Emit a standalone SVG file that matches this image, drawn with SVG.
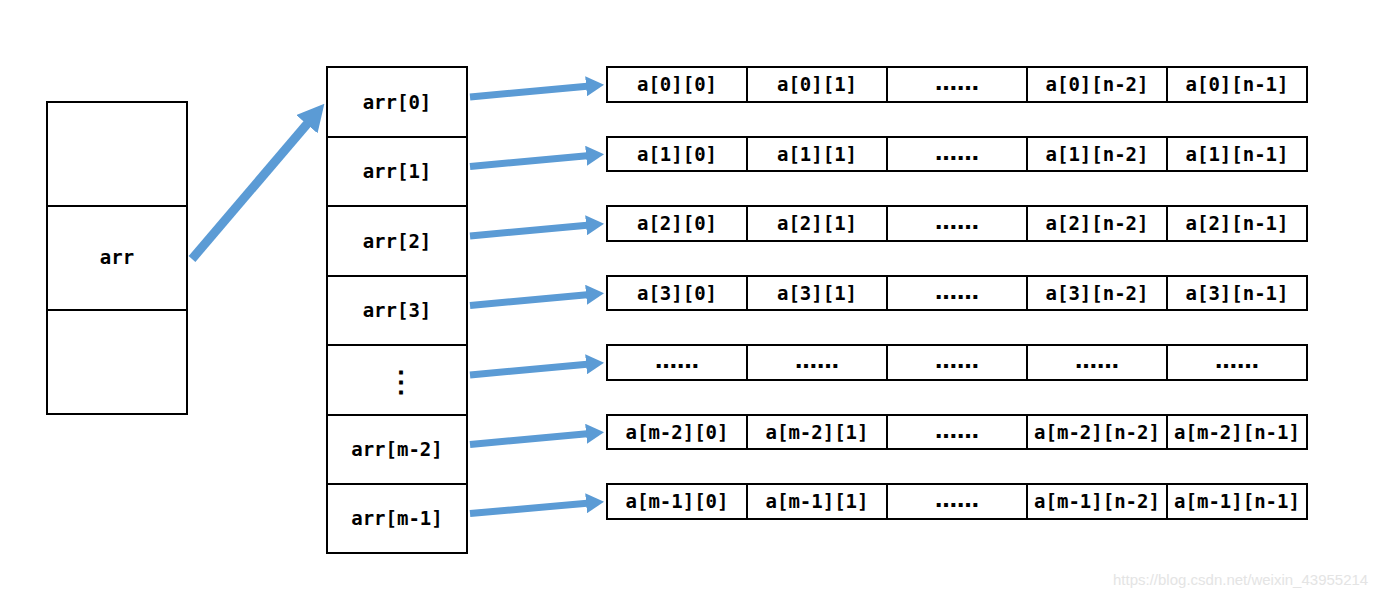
<svg xmlns="http://www.w3.org/2000/svg" width="1394" height="597" viewBox="0 0 1394 597">
<style>
.box{fill:#fff;stroke:#000;stroke-width:2}
.ln{stroke:#000;stroke-width:2}
.t{font-family:"DejaVu Sans Mono","Liberation Mono",monospace;font-weight:bold;font-size:19px;fill:#000;text-anchor:middle}
.el{font-family:"DejaVu Sans",sans-serif;font-weight:bold;font-size:22px;fill:#000;text-anchor:middle}
.vd{font-family:"Noto Sans CJK SC",sans-serif;font-weight:bold;font-size:28px;fill:#000;text-anchor:middle}
.ar{stroke:#5B9BD5;stroke-width:7;fill:none}
.big{stroke:#5B9BD5;stroke-width:9;fill:none}
.wm{font-family:"Liberation Sans",Arial,sans-serif;font-size:15px;fill:#e4e4e4}
</style>
<defs>
<marker id="ah" viewBox="0 0 18 20" refX="1" refY="10" markerWidth="18" markerHeight="20" markerUnits="userSpaceOnUse" orient="auto"><path d="M0,0 L18,10 L0,20 Z" fill="#5B9BD5"/></marker>
<marker id="ahb" viewBox="0 0 27 28" refX="1" refY="14" markerWidth="27" markerHeight="28" markerUnits="userSpaceOnUse" orient="auto"><path d="M0,0 L27,14 L0,28 Z" fill="#5B9BD5"/></marker>
</defs>

<g id="ptr">
<rect class="box" x="47" y="102" width="140" height="312"/>
<line class="ln" x1="47" y1="206" x2="187" y2="206"/>
<line class="ln" x1="47" y1="310" x2="187" y2="310"/>
<text class="t" x="117" y="264">arr</text>
</g>

<g id="rows">
<rect class="box" x="327" y="67" width="140" height="486"/>
<line class="ln" x1="327" y1="137" x2="467" y2="137"/>
<line class="ln" x1="327" y1="206" x2="467" y2="206"/>
<line class="ln" x1="327" y1="276" x2="467" y2="276"/>
<line class="ln" x1="327" y1="345" x2="467" y2="345"/>
<line class="ln" x1="327" y1="415" x2="467" y2="415"/>
<line class="ln" x1="327" y1="484" x2="467" y2="484"/>
<text class="t" x="397" y="109">arr[0]</text>
<text class="t" x="397" y="178">arr[1]</text>
<text class="t" x="397" y="248">arr[2]</text>
<text class="t" x="397" y="317">arr[3]</text>
<text class="vd" x="401" y="391">⋮</text>
<text class="t" x="397" y="456">arr[m-2]</text>
<text class="t" x="397" y="525">arr[m-1]</text>
</g>

<g id="row0">
<rect class="box" x="607" y="67" width="700" height="35"/>
<path class="ln" d="M747,67V102M887,67V102M1027,67V102M1167,67V102"/>
<text class="t" x="677" y="91">a[0][0]</text><text class="t" x="817" y="91">a[0][1]</text><text class="el" x="957" y="90">……</text><text class="t" x="1097" y="91">a[0][n-2]</text><text class="t" x="1237" y="91">a[0][n-1]</text>
</g>
<g id="row1">
<rect class="box" x="607" y="137" width="700" height="34"/>
<path class="ln" d="M747,137V171M887,137V171M1027,137V171M1167,137V171"/>
<text class="t" x="677" y="161">a[1][0]</text><text class="t" x="817" y="161">a[1][1]</text><text class="el" x="957" y="160">……</text><text class="t" x="1097" y="161">a[1][n-2]</text><text class="t" x="1237" y="161">a[1][n-1]</text>
</g>
<g id="row2">
<rect class="box" x="607" y="206" width="700" height="35"/>
<path class="ln" d="M747,206V241M887,206V241M1027,206V241M1167,206V241"/>
<text class="t" x="677" y="230">a[2][0]</text><text class="t" x="817" y="230">a[2][1]</text><text class="el" x="957" y="229">……</text><text class="t" x="1097" y="230">a[2][n-2]</text><text class="t" x="1237" y="230">a[2][n-1]</text>
</g>
<g id="row3">
<rect class="box" x="607" y="276" width="700" height="34"/>
<path class="ln" d="M747,276V310M887,276V310M1027,276V310M1167,276V310"/>
<text class="t" x="677" y="300">a[3][0]</text><text class="t" x="817" y="300">a[3][1]</text><text class="el" x="957" y="299">……</text><text class="t" x="1097" y="300">a[3][n-2]</text><text class="t" x="1237" y="300">a[3][n-1]</text>
</g>
<g id="rowdots">
<rect class="box" x="607" y="345" width="700" height="35"/>
<path class="ln" d="M747,345V380M887,345V380M1027,345V380M1167,345V380"/>
<text class="el" x="677" y="368">……</text><text class="el" x="817" y="368">……</text><text class="el" x="957" y="368">……</text><text class="el" x="1097" y="368">……</text><text class="el" x="1237" y="368">……</text>
</g>
<g id="rowm2">
<rect class="box" x="607" y="415" width="700" height="34"/>
<path class="ln" d="M747,415V449M887,415V449M1027,415V449M1167,415V449"/>
<text class="t" x="677" y="439">a[m-2][0]</text><text class="t" x="817" y="439">a[m-2][1]</text><text class="el" x="957" y="438">……</text><text class="t" x="1097" y="439">a[m-2][n-2]</text><text class="t" x="1237" y="439">a[m-2][n-1]</text>
</g>
<g id="rowm1">
<rect class="box" x="607" y="484" width="700" height="35"/>
<path class="ln" d="M747,484V519M887,484V519M1027,484V519M1167,484V519"/>
<text class="t" x="677" y="508">a[m-1][0]</text><text class="t" x="817" y="508">a[m-1][1]</text><text class="el" x="957" y="507">……</text><text class="t" x="1097" y="508">a[m-1][n-2]</text><text class="t" x="1237" y="508">a[m-1][n-1]</text>
</g>

<g id="connectors">
<line class="big" x1="192" y1="259" x2="307.5" y2="123.5" marker-end="url(#ahb)"/>
<line class="ar" x1="470" y1="97" x2="587.1" y2="86.2" marker-end="url(#ah)"/>
<line class="ar" x1="470" y1="166.5" x2="587.1" y2="155.7" marker-end="url(#ah)"/>
<line class="ar" x1="470" y1="236" x2="587.1" y2="225.2" marker-end="url(#ah)"/>
<line class="ar" x1="470" y1="305.5" x2="587.1" y2="294.7" marker-end="url(#ah)"/>
<line class="ar" x1="470" y1="375" x2="587.1" y2="364.2" marker-end="url(#ah)"/>
<line class="ar" x1="470" y1="444.5" x2="587.1" y2="433.7" marker-end="url(#ah)"/>
<line class="ar" x1="470" y1="513.5" x2="587.1" y2="503.2" marker-end="url(#ah)"/>
</g>

<text class="wm" x="1113" y="585">https://blog.csdn.net/weixin_43955214</text>
</svg>
